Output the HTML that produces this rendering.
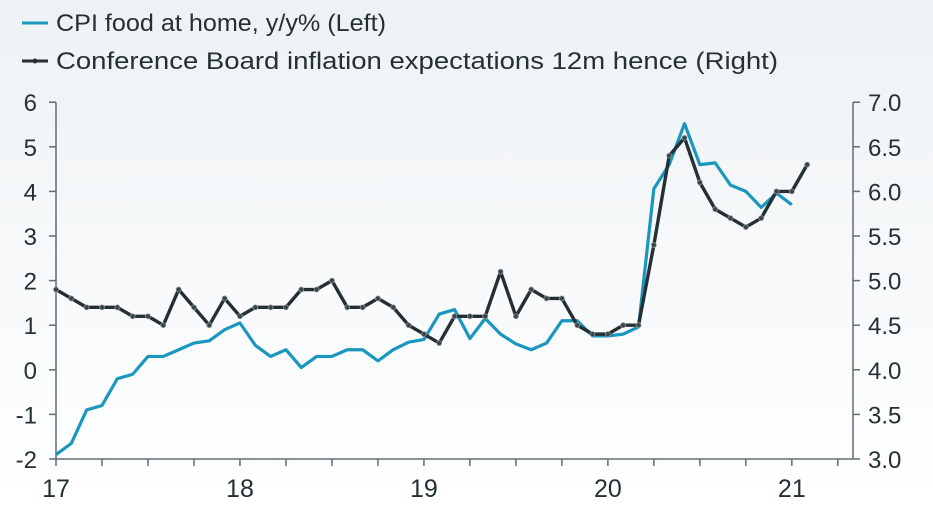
<!DOCTYPE html>
<html><head><meta charset="utf-8">
<style>
html,body{margin:0;padding:0;}
body{width:933px;height:503px;overflow:hidden;font-family:"Liberation Sans",sans-serif;}
</style></head>
<body>
<svg id="chart" width="933" height="503" xmlns="http://www.w3.org/2000/svg">
<defs>
<linearGradient id="bg" x1="0" y1="0" x2="0" y2="1">
<stop offset="0" stop-color="#eef2f5"/><stop offset="1" stop-color="#ffffff"/>
</linearGradient>
</defs>
<rect x="0" y="0" width="933" height="503" fill="url(#bg)"/>
<g>
<g>
<line x1="22" y1="23" x2="48" y2="23" stroke="#1a97bf" stroke-width="3"/>
<text x="56" y="31" font-size="24" fill="#243034" textLength="330" lengthAdjust="spacingAndGlyphs">CPI food at home, y/y% (Left)</text>
</g>
<g>
<line x1="22" y1="61" x2="48" y2="61" stroke="#243034" stroke-width="3"/>
<circle cx="35" cy="61" r="2.5" fill="#243034"/>
<text x="56" y="69" font-size="24" fill="#243034" textLength="722" lengthAdjust="spacingAndGlyphs">Conference Board inflation expectations 12m hence (Right)</text>
</g>
</g>
<g id="axes"></g>
<g id="series"></g>
</svg>
<script>
const leftTicks = [-2,-1,0,1,2,3,4,5,6];
const rightTicks = ["3.0","3.5","4.0","4.5","5.0","5.5","6.0","6.5","7.0"];
const yearLabels = ["17","18","19","20","21"];
const cpiFood = [-1.9,-1.65,-0.9,-0.8,-0.2,-0.1,0.3,0.3,0.45,0.6,0.65,0.9,1.05,0.55,0.3,0.45,0.05,0.3,0.3,0.45,0.45,0.2,0.45,0.62,0.68,1.25,1.35,0.7,1.15,0.8,0.58,0.45,0.6,1.1,1.1,0.76,0.76,0.8,0.96,4.06,4.6,5.52,4.6,4.64,4.14,4.0,3.64,3.96,3.7];
const confBoard = [4.9,4.8,4.7,4.7,4.7,4.6,4.6,4.5,4.9,4.7,4.5,4.8,4.6,4.7,4.7,4.7,4.9,4.9,5.0,4.7,4.7,4.8,4.7,4.5,4.4,4.3,4.6,4.6,4.6,5.1,4.6,4.9,4.8,4.8,4.5,4.4,4.4,4.5,4.5,5.4,6.4,6.6,6.1,5.8,5.7,5.6,5.7,6.0,6.0,6.3];

const NS = "http://www.w3.org/2000/svg";
const X0 = 56, MONTH = 15.33, Y0 = 459, UNIT = 44.6, RX = 853;
const xm = m => X0 + m * MONTH;
const yL = v => Y0 - (v + 2) * UNIT;
const yR = v => Y0 - (v - 3) * UNIT * 2;
function mk(tag, attrs, parent){const e=document.createElementNS(NS,tag);for(const k in attrs)e.setAttribute(k,attrs[k]);parent.appendChild(e);return e;}
const axes = document.getElementById('axes');
const series = document.getElementById('series');
const AX = "#5f6e72", TXT = "#243034";

const la = mk('line',{x1:X0,y1:yL(6),x2:X0,y2:Y0,stroke:AX,'stroke-width':1.5},axes);


const ra = mk('line',{x1:RX,y1:yL(6),x2:RX,y2:Y0,stroke:AX,'stroke-width':1.5},axes);


const xa = mk('line',{x1:X0,y1:Y0,x2:RX,y2:Y0,stroke:AX,'stroke-width':1.5},axes);



leftTicks.forEach(v=>{
  mk('line',{x1:X0-7,y1:yL(v),x2:X0,y2:yL(v),stroke:AX,'stroke-width':1.5},axes);
  const t = mk('text',{x:37,y:yL(v)+9,'font-size':24,fill:TXT,'text-anchor':'end'},axes);
  t.textContent = v;
  
  
});
rightTicks.forEach((s,i)=>{
  const y = yR(parseFloat(s));
  mk('line',{x1:RX,y1:y,x2:RX+7,y2:y,stroke:AX,'stroke-width':1.5},axes);
  const t = mk('text',{x:868,y:y+9,'font-size':24,fill:TXT},axes);
  t.textContent = s;
  
  
});
for(let q=0;q<=17;q++){
  mk('line',{x1:xm(q*3),y1:Y0,x2:xm(q*3),y2:Y0+7,stroke:AX,'stroke-width':1.5},axes);
}
yearLabels.forEach((s,i)=>{
  const t = mk('text',{x:xm(i*12),y:Y0+38,'font-size':25,fill:TXT,'text-anchor':'middle'},axes);
  t.textContent = s;
  
  
});

const p1 = mk('polyline',{points:cpiFood.map((v,i)=>xm(i)+','+yL(v)).join(' '),fill:'none',stroke:'#1a97bf','stroke-width':3.2,'stroke-linejoin':'round'},series);


const p2 = mk('polyline',{points:confBoard.map((v,i)=>xm(i)+','+yR(v)).join(' '),fill:'none',stroke:'#243034','stroke-width':3.4,'stroke-linejoin':'round'},series);


confBoard.forEach((v,i)=>{
  const c = mk('circle',{cx:xm(i),cy:yR(v),r:2.5,fill:'#3a4548',stroke:'#8a9598','stroke-width':0.8},series);
  
  
});
</script>
</body></html>
